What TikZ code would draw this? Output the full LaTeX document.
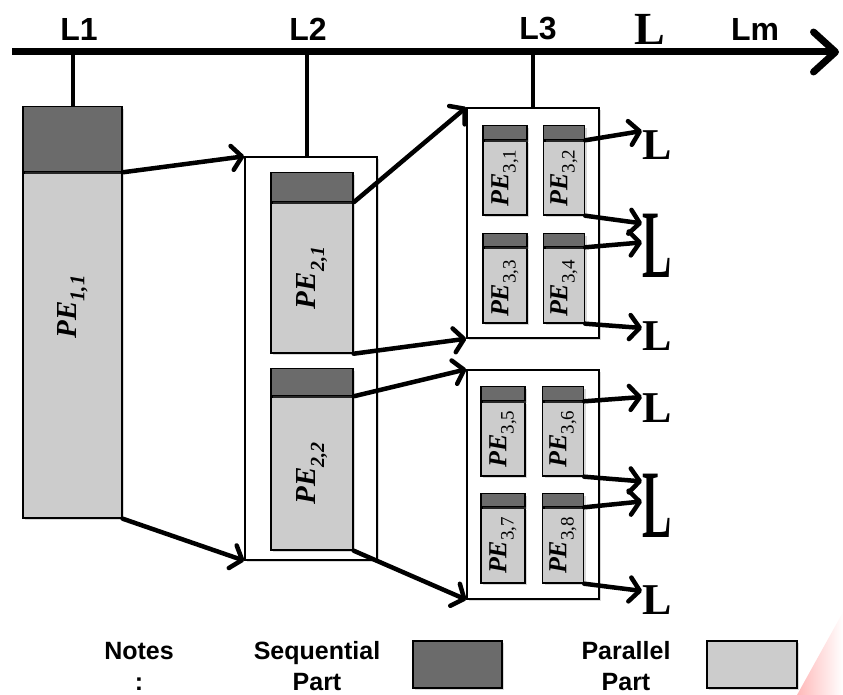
\documentclass[tikz,border=0pt]{standalone}
\usepackage{fontspec}
\setmainfont{Liberation Serif}
\setsansfont{Liberation Sans}
\usepackage{tikz}
\usetikzlibrary{positioning,arrows.meta,shadows}
\definecolor{seqC}{HTML}{6B6B6B}
\definecolor{parC}{HTML}{CCCCCC}
\newcommand{\pename}[2]{PE\raisebox{-0.28em}{\fontsize{#2}{#2}\selectfont #1}}

\begin{document}
\begin{tikzpicture}[x=1pt, y=-1pt,
  every node/.style={inner sep=0pt},
  lbl/.style={font=\sffamily\bfseries\fontsize{25}{31}\selectfont, align=center},
  axlbl/.style={font=\sffamily\bfseries\fontsize{32}{32}\selectfont},
  part/.style={draw=black, line width=1.4pt,
               drop shadow={shadow xshift=2pt, shadow yshift=-2pt, opacity=0.3}},
  seqpart/.style={part, fill=seqC},
  parpart/.style={part, fill=parC},
  grp/.style={part, fill=white, minimum width=132pt},
  pe/.style={rotate=90, font=\rmfamily\bfseries\itshape\fontsize{29}{29}\selectfont},
  pes/.style={rotate=90, font=\rmfamily\bfseries\itshape\fontsize{26}{26}\selectfont},
  arr/.style={-{Straight Barb[length=10pt, width=24pt, round]}, line width=4.5pt, line cap=round},
  tick/.style={line width=4pt},
  lend/.style={anchor=base west, font=\rmfamily\bfseries\fontsize{44}{44}\selectfont}
]
  \useasboundingbox (0,0) rectangle (843,695);

  % time axis
  \coordinate (axs) at (12,52);
  \coordinate (axe) at (839,52);
  \node[axlbl] (l1) at (79,29) {L1};
  \node[axlbl] (l2) at (308,29) {L2};
  \node[axlbl] (l3) at (538,29) {L3};
  \node[font=\rmfamily\bfseries\fontsize{46}{46}\selectfont] (ldots) at (650,29) {L};
  \node[axlbl] (lm) at (755,29) {Lm};

  % level 1
  \node[parpart, minimum width=99pt, minimum height=345pt] (pe11) at (72.5,345.5) {};
  \node[seqpart, minimum width=99pt, minimum height=65pt, above=0pt of pe11] (s11) {};
  \node[pe] (t11) at (72.5,307) {\pename{1,1}{21}};

  % level 2
  \node[grp, minimum height=403pt] (lvl2) at (311,358.5) {};
  \node[parpart, minimum width=82pt, minimum height=150pt] (pe21) at (312,278) {};
  \node[seqpart, minimum width=82pt, minimum height=29pt, above=0pt of pe21] (s21) {};
  \node[pe] (t21) at (pe21) {\pename{2,1}{20}};
  \node[parpart, minimum width=82pt, minimum height=153pt] (pe22) at (312,473.5) {};
  \node[seqpart, minimum width=82pt, minimum height=27pt, above=0pt of pe22] (s22) {};
  \node[pe] (t22) at (pe22) {\pename{2,2}{20}};

  % level 3
  \node[grp, minimum height=230pt] (lvl3a) at (533,223) {};
  \node[grp, minimum height=229pt] (lvl3b) at (533,484.5) {};
  \node[parpart, minimum width=44pt, minimum height=74pt] (pe31) at (505,178) {};
  \node[parpart, minimum width=41pt, minimum height=74pt] (pe32) at (564,178) {};
  \node[parpart, minimum width=44pt, minimum height=75pt] (pe33) at (505,285.5) {};
  \node[parpart, minimum width=41pt, minimum height=75pt] (pe34) at (564,285.5) {};
  \node[parpart, minimum width=44pt, minimum height=74pt] (pe35) at (503,439) {};
  \node[parpart, minimum width=41pt, minimum height=74pt] (pe36) at (563,439) {};
  \node[parpart, minimum width=44pt, minimum height=75pt] (pe37) at (503,545.5) {};
  \node[parpart, minimum width=41pt, minimum height=75pt] (pe38) at (563,545.5) {};
  \node[seqpart, minimum width=44pt, minimum height=14pt, above=0pt of pe31] (s31) {};
  \node[seqpart, minimum width=41pt, minimum height=14pt, above=0pt of pe32] (s32) {};
  \node[seqpart, minimum width=44pt, minimum height=13pt, above=0pt of pe33] (s33) {};
  \node[seqpart, minimum width=41pt, minimum height=13pt, above=0pt of pe34] (s34) {};
  \node[seqpart, minimum width=44pt, minimum height=14pt, above=0pt of pe35] (s35) {};
  \node[seqpart, minimum width=41pt, minimum height=14pt, above=0pt of pe36] (s36) {};
  \node[seqpart, minimum width=44pt, minimum height=13pt, above=0pt of pe37] (s37) {};
  \node[seqpart, minimum width=41pt, minimum height=13pt, above=0pt of pe38] (s38) {};
  \node[pes] (t31) at (pe31) {\pename{\upshape\mdseries 3,1}{19}};
  \node[pes] (t32) at (pe32) {\pename{\upshape\mdseries 3,2}{19}};
  \node[pes] (t33) at ([yshift=-3pt]pe33.center) {\pename{\upshape\mdseries 3,3}{19}};
  \node[pes] (t34) at ([yshift=-3pt]pe34.center) {\pename{\upshape\mdseries 3,4}{19}};
  \node[pes] (t35) at (pe35) {\pename{\upshape\mdseries 3,5}{19}};
  \node[pes] (t36) at (pe36) {\pename{\upshape\mdseries 3,6}{19}};
  \node[pes] (t37) at (pe37) {\pename{\upshape\mdseries 3,7}{19}};
  \node[pes] (t38) at (pe38) {\pename{\upshape\mdseries 3,8}{19}};

  % next levels
  \node[lend] (la) at (642,160) {L};
  \node[lend] (lb) at (642,277) {\scalebox{1}[2.2]{L}};
  \node[lend] (lc) at (642,350) {L};
  \node[lend] (ld) at (642,422) {L};
  \node[lend] (le) at (642,537) {\scalebox{1}[2.2]{L}};
  \node[lend] (lf) at (642,614) {L};

  % connectors
  \draw[line width=7pt, -{Straight Barb[length=22pt, width=40pt, round]}] (axs) -- (axe);
  \draw[tick] (s11.north |- axs) -- (s11.north);
  \draw[tick] (307,52) -- (lvl2.north -| 307,0);
  \draw[tick] (lvl3a.north |- axs) -- (lvl3a.north);

  \draw[arr] (pe11.north east) -- (lvl2.north west);
  \draw[arr] (pe11.south east) -- (lvl2.south west);
  \draw[arr] (pe21.north east) -- (lvl3a.north west);
  \draw[arr] (pe21.south east) -- (lvl3a.south west);
  \draw[arr] (pe22.north east) -- (lvl3b.north west);
  \draw[arr] (pe22.south east) -- (lvl3b.south west);

  \draw[arr] (pe32.north east) -- (la.north west);
  \draw[arr] (pe32.south east) -- ([yshift=-10pt]lb.north west);
  \draw[arr] (pe34.north east) -- ([yshift=-29pt]lb.north west);
  \draw[arr] (pe34.south east) -- ([yshift=-7pt]lc.north west);
  \draw[arr] (pe36.north east) -- ([yshift=-4pt]ld.north west);
  \draw[arr] (pe36.south east) -- ([yshift=-8pt]le.north west);
  \draw[arr] (pe38.north east) -- ([yshift=-28pt]le.north west);
  \draw[arr] (pe38.south east) -- ([yshift=-6pt]lf.north west);

  % legend
  \node[lbl] (notes) at (139,666) {Notes\\:};
  \node[lbl] (seqtxt) at (317,666) {Sequential\\Part};
  \node[seqpart, minimum width=89pt, minimum height=47pt] (seqkey) at (457.5,664.5) {};
  \node[lbl] (partxt) at (626,666) {Parallel\\Part};
  \node[parpart, minimum width=90pt, minimum height=47pt] (parkey) at (752,664.5) {};

  \shade[left color=red!55, right color=white, opacity=0.5]
    (797,695) -- (843,612) -- (843,695) -- cycle;
\end{tikzpicture}
\end{document}
